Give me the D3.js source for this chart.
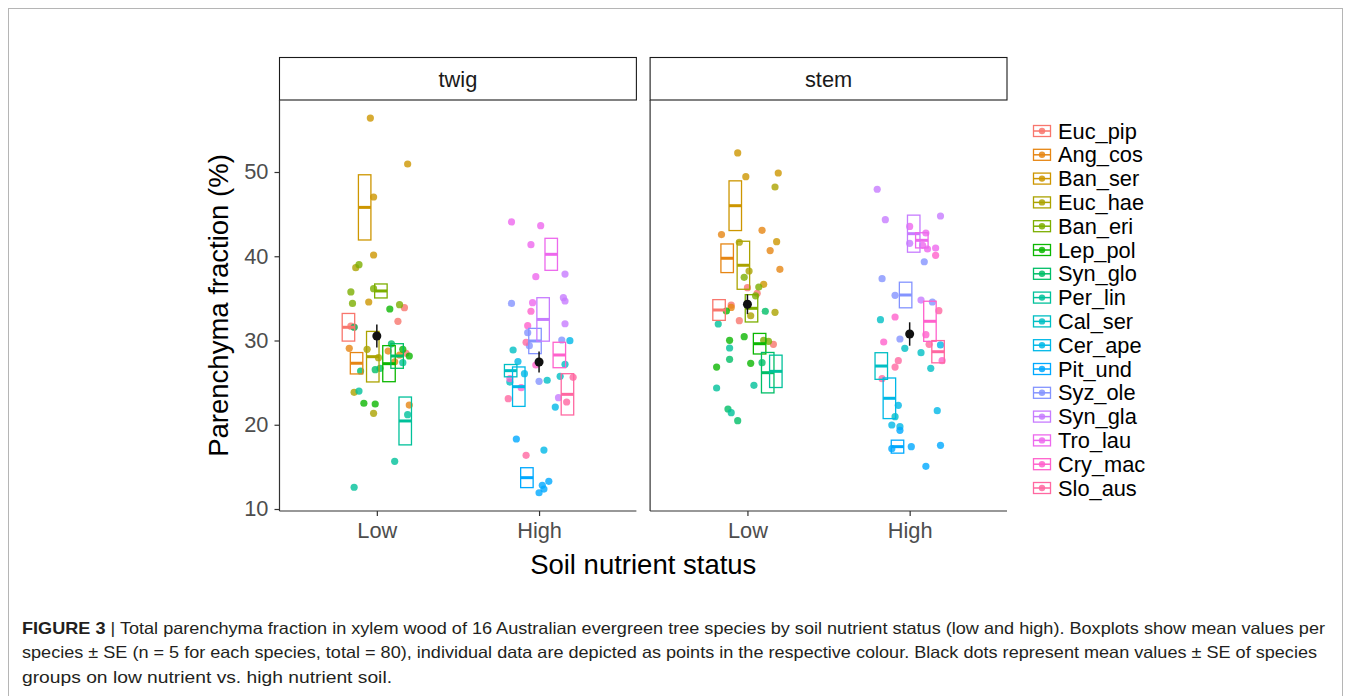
<!DOCTYPE html>
<html>
<head>
<meta charset="utf-8">
<script src="https://cdn.jsdelivr.net/npm/d3@7"></script>
<style>
  html, body { margin: 0; padding: 0; background: #fff; }
  svg { display: block; font-family: "Liberation Sans", Arial, sans-serif; }
</style>
</head>
<body>
<svg id="chart" width="1351" height="696"></svg>
<script>
// ---- data ----
const species = ["Euc_pip", "Ang_cos", "Ban_ser", "Euc_hae", "Ban_eri", "Lep_pol", "Syn_glo", "Per_lin",
                 "Cal_ser", "Cer_ape", "Pit_und", "Syz_ole", "Syn_gla", "Tro_lau", "Cry_mac", "Slo_aus"];
const tissues = ["twig", "stem"];
const nutrients = ["Low", "High"];
const yTicks = [10, 20, 30, 40, 50];

// species means +- SE (boxes)
const twigMean = [31.57, 27.3, 45.8, 28.08, 35.88, 27.25, 28.16, 20.45, 26.42, 24.52, 13.72, 29.94, 32.5, 40.23, 28.28, 23.61];
const twigSE   = [1.64, 1.27, 3.87, 3.0, 0.83, 2.14, 1.46, 2.84, 0.73, 2.34, 1.18, 1.5, 2.58, 1.9, 1.51, 2.45];
const stemMean = [33.62, 39.76, 46.0, 38.93, 33.82, 29.62, 26.18, 26.34, 26.97, 23.14, 17.4, 35.4, 42.68, 41.89, 32.28, 28.67];
const stemSE   = [1.23, 1.7, 2.95, 2.85, 1.62, 1.22, 2.4, 1.92, 1.58, 2.41, 0.77, 1.52, 2.2, 0.9, 2.38, 1.32];

// group means +- SE (black dots), order Low, High
const twigGroupMean = [30.53, 27.45];
const twigGroupSE = [1.37, 1.25];
const stemGroupMean = [34.3, 30.77];
const stemGroupSE = [1.17, 1.39];

// individual values (5 per species) and their horizontal jitter
const twigValues = [
  [33.9, 32.28, 28.48, 31.7, 31.6], [29.07, 28.75, 28.28, 27.48, 22.34], [56.4, 50.95, 47.03, 40.15, 34.57],
  [38.64, 28.95, 27.96, 23.85, 21.36], [39.0, 35.76, 36.15, 34.4, 34.25], [33.74, 28.95, 28.16, 22.55, 22.46],
  [31.57, 26.38, 26.54, 26.7, 29.6], [27.37, 24.0, 21.19, 15.66, 12.58],
  [28.87, 27.17, 25.07, 25.28, 25.75], [29.98, 26.06, 22.1, 17.0, 27.5], [13.29, 12.81, 12.37, 11.93, 18.31],
  [34.4, 30.93, 29.38, 30.06, 25.16], [37.89, 35.08, 34.69, 31.99, 23.21], [44.07, 43.63, 41.37, 37.57, 34.49],
  [33.47, 31.76, 27.09, 24.4, 25.47], [29.79, 25.63, 22.7, 23.09, 16.37]
];
const twigJitter = [
  [0.17, 0.13, 0.18, -0.16, -0.14], [-0.17, 0.07, 0.14, 0.11, 0.20], [-0.04, 0.19, -0.02, -0.02, -0.05],
  [-0.13, -0.06, 0.01, -0.14, -0.02], [-0.11, -0.16, -0.02, -0.15, 0.14], [0.08, 0.16, 0.20, -0.08, -0.01],
  [-0.14, -0.10, -0.01, 0.02, 0.09], [0.16, -0.11, 0.19, 0.11, -0.14],
  [-0.16, 0.16, -0.18, 0.05, 0.13], [0.19, -0.09, 0.10, 0.03, -0.13], [0.06, 0.02, 0.03, 0.00, -0.14],
  [-0.17, -0.07, -0.06, 0.14, 0.00], [0.16, 0.15, 0.16, 0.16, 0.12], [-0.17, 0.01, -0.05, -0.02, -0.04],
  [-0.05, -0.07, -0.02, -0.11, -0.18], [-0.08, 0.21, 0.17, -0.19, -0.08]
];
const stemValues = [
  [36.27, 35.6, 34.2, 32.35, 29.55], [42.57, 43.08, 40.67, 38.45, 33.93], [52.26, 49.44, 49.88, 41.73, 36.67],
  [48.22, 41.66, 38.25, 32.94, 33.35], [37.5, 36.35, 30.02, 29.9, 35.3], [33.5, 30.45, 30.02, 27.29, 26.85],
  [33.47, 27.77, 27.37, 21.87, 20.48], [31.96, 29.11, 24.36, 24.68, 21.43],
  [32.47, 29.07, 28.55, 26.7, 20.96], [22.31, 21.67, 19.97, 19.77, 29.47], [17.16, 17.4, 17.56, 15.07, 19.34],
  [39.35, 37.34, 35.36, 34.57, 30.18], [47.95, 44.34, 44.78, 41.54, 34.8], [43.54, 42.76, 40.98, 40.86, 41.3],
  [40.11, 32.79, 30.69, 29.82, 27.6], [33.54, 29.55, 27.6, 26.85, 25.47]
];
const stemJitter = [
  [0.00, 0.06, -0.10, -0.05, 0.16], [-0.16, 0.09, 0.14, 0.20, -0.10], [-0.06, -0.01, 0.19, 0.18, 0.10],
  [0.17, -0.05, 0.01, 0.02, 0.17], [-0.02, 0.07, 0.10, 0.13, 0.05], [-0.13, -0.02, -0.11, 0.02, -0.19],
  [0.11, -0.11, 0.09, -0.12, -0.06], [-0.18, -0.11, -0.19, 0.04, -0.10],
  [-0.18, -0.03, 0.07, 0.13, -0.09], [-0.07, 0.17, -0.11, -0.06, 0.19], [-0.11, 0.01, 0.19, 0.10, -0.06],
  [0.09, -0.17, -0.09, 0.14, -0.06], [-0.20, -0.15, 0.19, 0.00, 0.07], [0.00, 0.10, 0.16, 0.11, 0.08],
  [0.16, -0.09, 0.10, -0.16, 0.20], [0.18, 0.12, -0.07, -0.09, -0.17]
];

const captionLines = [
  "Total parenchyma fraction in xylem wood of 16 Australian evergreen tree species by soil nutrient status (low and high). Boxplots show mean values per",
  "species ± SE (n = 5 for each species, total = 80), individual data are depicted as points in the respective colour. Black dots represent mean values ± SE of species",
  "groups on low nutrient vs. high nutrient soil."
];

// R-style hcl() (polar Luv) so the palette matches ggplot's hue scale
function rhcl(h, c, l) {
  const WY = 100, Wu = 0.1978398, Wv = 0.4683363;
  const hr = h * Math.PI / 180;
  const U = c * Math.cos(hr), V = c * Math.sin(hr);
  const Y = WY * (l > 7.999592 ? Math.pow((l + 16) / 116, 3) : l / 903.3);
  const u = U / (13 * l) + Wu, v = V / (13 * l) + Wv;
  const X = 9.0 * Y * u / (4 * v);
  const Z = -X / 3 - 5 * Y + 3 * Y / v;
  const g = t => {
    t = t / WY;
    t = t > 0.00304 ? 1.055 * Math.pow(t, 1 / 2.4) - 0.055 : 12.92 * t;
    return Math.round(255 * Math.max(0, Math.min(1, t)));
  };
  return d3.rgb(g(3.240479 * X - 1.537150 * Y - 0.498535 * Z),
                g(-0.969256 * X + 1.875992 * Y + 0.041556 * Z),
                g(0.055648 * X - 0.204043 * Y + 1.057311 * Z)).formatHex();
}
const color = d3.scaleOrdinal()
  .domain(species)
  .range(species.map((d, i) => rhcl(15 + 360 * i / species.length, 100, 65)));

const svg = d3.select("#chart");

// outer figure frame
svg.append("rect")
  .attr("x", 8.5).attr("y", 8.5).attr("width", 1334).attr("height", 720)
  .attr("fill", "none").attr("stroke", "#b5b5b5").attr("stroke-width", 1);

// layout
const panelTop = 100, panelBottom = 511;
const panel = d3.scaleBand().domain(tissues).range([279.5, 1007]).paddingInner(0.037);
const y = d3.scaleLinear().domain([10, 50]).range([509, 172]);

const dodge = d3.scaleBand().domain(d3.range(8)).range([-0.2, 0.2]);
const boxW = 0.077;
const labelSize = 21.8, titleSize = 27.5;

const panelData = {
  twig: { mean: twigMean, se: twigSE, gm: twigGroupMean, gse: twigGroupSE, vals: twigValues, jit: twigJitter },
  stem: { mean: stemMean, se: stemSE, gm: stemGroupMean, gse: stemGroupSE, vals: stemValues, jit: stemJitter }
};

tissues.forEach(t => {
  const x0 = panel(t), x1 = x0 + panel.bandwidth();
  const x = d3.scalePoint().domain(nutrients).range([x0, x1]).padding(0.6);
  const step = x.step();
  const pd = panelData[t];
  const g = svg.append("g");

  // strip
  g.append("rect")
    .attr("x", x0).attr("y", 57.5).attr("width", panel.bandwidth()).attr("height", panelTop - 57.5)
    .attr("fill", "#fff").attr("stroke", "#1a1a1a").attr("stroke-width", 1.1);
  g.append("text")
    .attr("x", (x0 + x1) / 2).attr("y", 79).attr("dy", "0.35em")
    .attr("text-anchor", "middle").attr("font-size", labelSize).attr("fill", "#1a1a1a")
    .text(t);

  // points
  const pts = [];
  species.forEach((s, i) => pd.vals[i].forEach((v, j) => pts.push({ s, i, v, dx: pd.jit[i][j] })));
  g.append("g").selectAll("circle").data(pts).join("circle")
    .attr("cx", d => x(nutrients[d.i < 8 ? 0 : 1]) + d.dx * step)
    .attr("cy", d => y(d.v))
    .attr("r", 3.6)
    .attr("fill", d => color(d.s))
    .attr("fill-opacity", 0.8);

  // species boxes: mean +- SE
  const boxes = species.map((s, i) => ({
    s, m: pd.mean[i], se: pd.se[i],
    cx: x(nutrients[i < 8 ? 0 : 1]) + (dodge(i % 8) + dodge.bandwidth() / 2) * step
  }));
  const bg = g.append("g").selectAll("g").data(boxes).join("g");
  bg.append("rect")
    .attr("x", d => d.cx - boxW * step / 2)
    .attr("y", d => y(d.m + d.se))
    .attr("width", boxW * step)
    .attr("height", d => y(d.m - d.se) - y(d.m + d.se))
    .attr("fill", "none")
    .attr("stroke", d => color(d.s))
    .attr("stroke-width", 1.3);
  bg.append("line")
    .attr("x1", d => d.cx - boxW * step / 2).attr("x2", d => d.cx + boxW * step / 2)
    .attr("y1", d => y(d.m)).attr("y2", d => y(d.m))
    .attr("stroke", d => color(d.s)).attr("stroke-width", 3);

  // group mean +- SE
  nutrients.forEach((n, k) => {
    g.append("line")
      .attr("x1", x(n)).attr("x2", x(n))
      .attr("y1", y(pd.gm[k] + pd.gse[k])).attr("y2", y(pd.gm[k] - pd.gse[k]))
      .attr("stroke", "#111").attr("stroke-width", 1.5);
    g.append("circle")
      .attr("cx", x(n)).attr("cy", y(pd.gm[k])).attr("r", 4.5)
      .attr("fill", "#111");
  });

  // axis lines
  g.append("line")
    .attr("x1", x0).attr("x2", x0).attr("y1", panelTop).attr("y2", panelBottom)
    .attr("stroke", "#333").attr("stroke-width", 1.2);
  const xAxis = g.append("g")
    .attr("transform", `translate(0,${panelBottom})`)
    .call(d3.axisBottom(x).tickSizeOuter(0).tickSizeInner(5).tickPadding(7));
  xAxis.select(".domain").attr("d", `M${x0},0H${x1}`).attr("stroke", "#333").attr("stroke-width", 1.2);
  xAxis.selectAll(".tick line").attr("stroke", "#333").attr("stroke-width", 1.2);
  xAxis.selectAll(".tick text")
    .attr("font-size", labelSize).attr("fill", "#4d4d4d")
    .attr("font-family", "Liberation Sans, Arial, sans-serif");

  if (t === "twig") {
    const yAxis = g.append("g")
      .attr("transform", `translate(${x0},0)`)
      .call(d3.axisLeft(y).tickValues(yTicks).tickSizeOuter(0).tickSizeInner(5).tickPadding(6));
    yAxis.select(".domain").remove();
    yAxis.selectAll(".tick line").attr("stroke", "#333").attr("stroke-width", 1.2);
    yAxis.selectAll(".tick text")
      .attr("font-size", labelSize).attr("fill", "#4d4d4d")
      .attr("font-family", "Liberation Sans, Arial, sans-serif");
  }
});

// axis titles
svg.append("text")
  .attr("transform", `translate(228,${(panelTop + panelBottom) / 2}) rotate(-90)`)
  .attr("text-anchor", "middle").attr("font-size", titleSize).attr("fill", "#000")
  .text("Parenchyma fraction (%)");
svg.append("text")
  .attr("x", (279.5 + 1007) / 2).attr("y", 574)
  .attr("text-anchor", "middle").attr("font-size", titleSize).attr("fill", "#000")
  .text("Soil nutrient status");

// legend
const legend = svg.append("g").attr("transform", "translate(1033,131)");
const rowH = 23.8;
const li = legend.selectAll("g").data(species).join("g")
  .attr("transform", (d, i) => `translate(0,${i * rowH})`);
li.append("rect")
  .attr("x", 0.5).attr("y", -5.5).attr("width", 17).attr("height", 11)
  .attr("fill", "#fff").attr("stroke", d => color(d)).attr("stroke-width", 1.3);
li.append("line")
  .attr("x1", 0.5).attr("x2", 17.5).attr("y1", 0).attr("y2", 0)
  .attr("stroke", d => color(d)).attr("stroke-width", 1.5);
li.append("circle")
  .attr("cx", 9).attr("cy", 0).attr("r", 3.2)
  .attr("fill", d => color(d)).attr("fill-opacity", 0.85);
li.append("text")
  .attr("x", 25).attr("y", 0).attr("dy", "0.35em")
  .attr("font-size", labelSize).attr("fill", "#000")
  .text(d => d);

// caption
const capX = 22;
const capBase = [634, 658, 683];
const capWidth = [1303, 1295, 370];
captionLines.forEach((line, i) => {
  const tx = svg.append("text")
    .attr("x", capX).attr("y", capBase[i])
    .attr("font-family", "'Liberation Sans Narrow', 'Arial Narrow', 'Liberation Sans', sans-serif")
    .attr("font-size", 16.5).attr("fill", "#231f20")
    .attr("textLength", capWidth[i]).attr("lengthAdjust", "spacingAndGlyphs");
  if (i === 0) {
    tx.append("tspan").attr("font-weight", "bold").text("FIGURE 3");
    tx.append("tspan").text(" | " + line);
  } else {
    tx.text(line);
  }
});
</script>
</body>
</html>
